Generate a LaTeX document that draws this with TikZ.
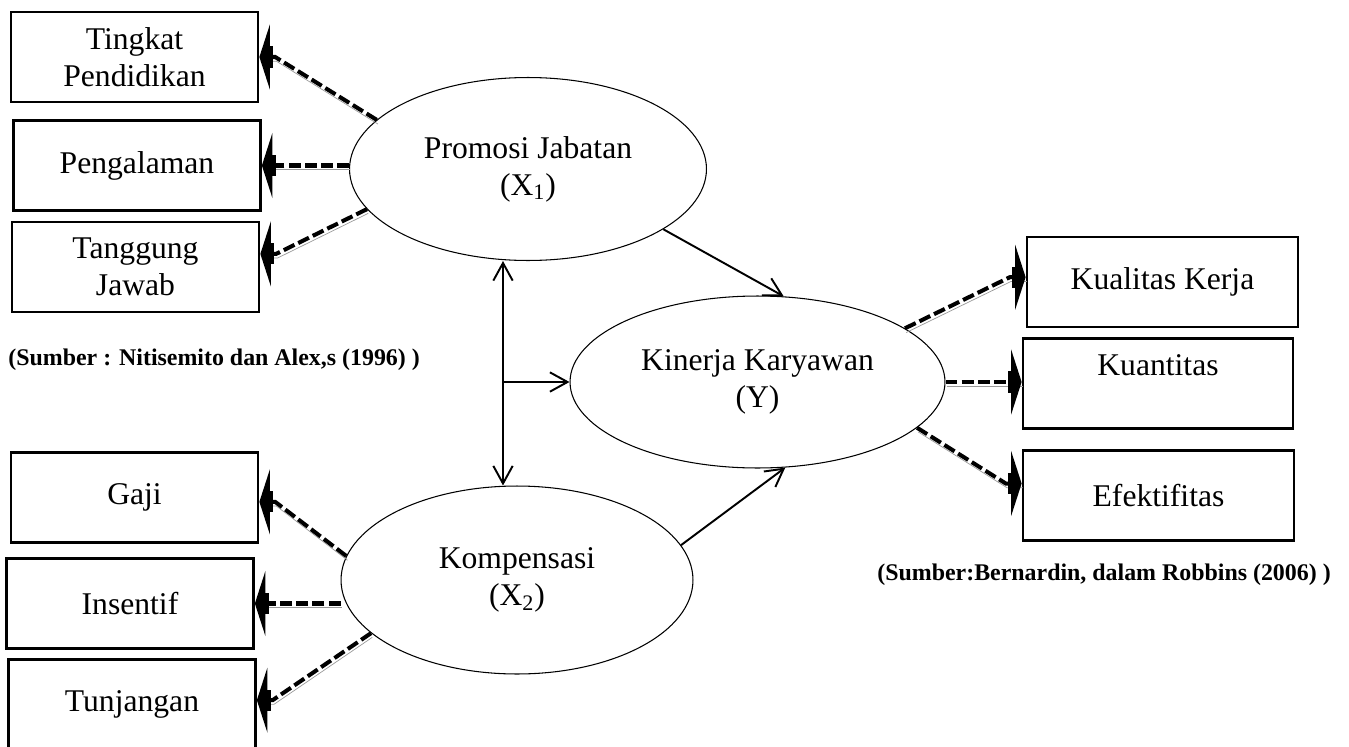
\documentclass[tikz,border=0pt]{standalone}
\usepackage{fontspec}
\setmainfont{Liberation Serif}
\usetikzlibrary{arrows.meta, shapes.geometric}

\begin{document}
\begin{tikzpicture}[
    x=0.02cm, y=-0.02cm, % one unit = one pixel of the sketch, y runs downwards
    >={Straight Barb[length=10pt,width=11pt]}, % Default open arrow tip
    konstruk/.style={ellipse, draw, line width=0.6pt, inner sep=0pt, align=center,
        font=\fontsize{18}{21}\selectfont}, % Style for the latent variables
    indikator/.style={rectangle, draw, line width=1.6pt, minimum width=4.94cm,
        minimum height=1.8cm, inner sep=2pt, align=center,
        font=\fontsize{18}{21}\selectfont}, % Style for the indicator boxes
    jalur/.style={->, line width=1.1pt}, % Style for the structural paths
    % Dashed loading line with a grey shadow and a heavy tip
    muatan/.style={line width=2.3pt, dash pattern=on 6.8pt off 2.4pt,
        -{Rectangle[length=5pt,width=12pt,sep=-3pt]Triangle[length=6pt,width=37pt]},
        preaction={draw=black!40, arrows=-, transform canvas={xshift=0.7pt,yshift=-2.4pt}}},
    sumber/.style={inner sep=0pt, font=\fontsize{13.6}{16}\selectfont\bfseries} % Style for the sources
]

    \useasboundingbox (0,0) rectangle (1349,747);

    % Latent variables
    \node[konstruk, minimum width=7.14cm, minimum height=3.66cm] (promosi) at (528,169) {Promosi Jabatan\\(X\textsubscript{1})};
    \node[konstruk, minimum width=7.5cm, minimum height=3.44cm] (kinerja) at (757.5,382) {Kinerja Karyawan\\(Y)};
    \node[konstruk, minimum width=7.04cm, minimum height=3.76cm] (kompensasi) at (517,580) {Kompensasi\\(X\textsubscript{2})};

    % Indicators on the left
    \node[indikator] (tingkat) at (134.5,57) {Tingkat\\Pendidikan};
    \node[indikator] (pengalaman) at (137,165.5) {Pengalaman};
    \node[indikator] (tanggung) at (135.5,267) {Tanggung\\Jawab};
    \node[indikator] (gaji) at (134.5,497.5) {Gaji};
    \node[indikator] (insentif) at (130,603.5) {Insentif};
    \node[indikator] (tunjangan) at (132,704.5) {Tunjangan}; % bottom edge falls off the page

    % Indicators on the right
    \node[indikator, minimum width=5.42cm] (kualitas) at (1162.5,282) {Kualitas Kerja};
    \node[indikator, minimum width=5.4cm] (kuantitas) at (1158,383.5) {Kuantitas\\ \mbox{}};
    \node[indikator, minimum width=5.42cm] (efektifitas) at (1158.5,495.5) {Efektifitas};

    % Sources
    \node[sumber, anchor=west] (sumberx) at (8,360) {(Sumber : Nitisemito dan Alex,s (1996) )};
    \node[sumber, anchor=west] (sumbery) at (877,575) {(Sumber:Bernardin, dalam Robbins (2006) )};

    % Structural paths
    \coordinate (cabang) at (503,382);
    \draw[jalur, <->] (cabang |- promosi.south) -- (cabang |- kompensasi.north);
    \draw[jalur] (cabang) -- (cabang -| kinerja.west);
    \draw[jalur] (promosi.336) -- (kinerja.73);
    \draw[jalur] (kompensasi.12) -- (kinerja.288);

    % Loadings (last short piece is level, so the tips stand upright)
    \draw[muatan] (promosi.162) -- ([xshift=9pt]tingkat.east) -- (tingkat.east);
    \draw[muatan] (pengalaman.east -| promosi.west) -- (pengalaman.east);
    \draw[muatan] (promosi.194) -- ([xshift=9pt]tanggung.6) -- (tanggung.6);
    \draw[muatan] (kompensasi.172) -- ([xshift=9pt]gaji.358) -- (gaji.358);
    \draw[muatan] (insentif.east -| kompensasi.west) -- (insentif.east);
    \draw[muatan] (kompensasi.200) -- ([xshift=9pt]tunjangan.2) -- (tunjangan.2);
    \draw[muatan] (kinerja.20) -- ([xshift=-9pt]kualitas.178) -- (kualitas.178);
    \draw[muatan] (kinerja.east) -- (kinerja.east -| kuantitas.west);
    \draw[muatan] (kinerja.344) -- ([xshift=-9pt]efektifitas.175) -- (efektifitas.175);

\end{tikzpicture}
\end{document}
